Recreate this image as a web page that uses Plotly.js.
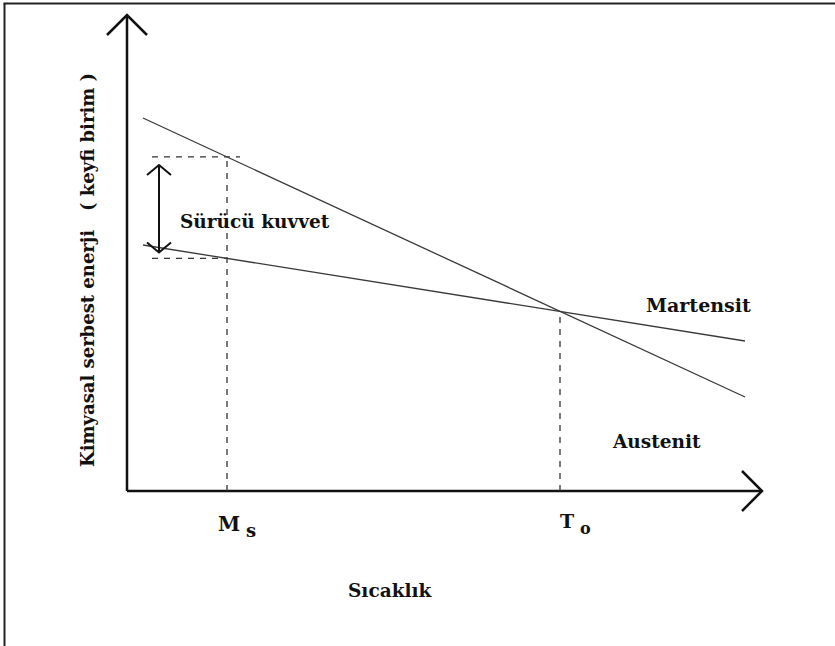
<!DOCTYPE html>
<html>
<head>
<meta charset="utf-8">
<script src="https://cdn.plot.ly/plotly-3.0.1.min.js"></script>
<style>html,body{margin:0;padding:0;background:#fff;}#chart{width:835px;height:646px;}</style>
</head>
<body>
<div id="chart"></div>
<script>
const temperature = [1.6, 61.8];          // Sıcaklık, start/end of the free-energy lines
const austeniteEnergy = [37.3, 9.4];      // Austenit line
const martensiteEnergy = [24.6, 15.0];    // Martensit line
const msTemp = 10;                        // M_s
const t0Temp = 43.3;                      // T_o
const axisEnd = {x: 63.5, y: 47.6};       // ends of the arrowed axes
const drivingForceX = 3.2;                // position of the double arrow
const tickMain = ["M", "T"];
const tickSub = ["s", "o"];
const axisTitles = {x: "Sıcaklık", y: "Kimyasal serbest enerji&nbsp;&nbsp;&nbsp;( keyfi birim )"};
const seriesLabels = ["Martensit", "Austenit", "Sürücü kuvvet"];

function interp(xs, ys, x) {
  return ys[0] + (ys[1] - ys[0]) * (x - xs[0]) / (xs[1] - xs[0]);
}
const aMs = interp(temperature, austeniteEnergy, msTemp);
const mMs = interp(temperature, martensiteEnergy, msTemp);
const aT0 = interp(temperature, austeniteEnergy, t0Temp);

const font = "DejaVu Serif";
const traces = [];
function line(x, y, color, width, dash) {
  traces.push({type: "scatter", mode: "lines", x: x, y: y, hoverinfo: "skip", showlegend: false,
    line: {color: color, width: width, dash: dash || "solid"}});
}
// axes with open arrowheads
line([0, 0], [0, axisEnd.y], "#111", 2.5);
line([-2, 0, 2], [axisEnd.y - 2, axisEnd.y, axisEnd.y - 2], "#111", 2.5);
line([0, axisEnd.x], [0, 0], "#111", 2.5);
line([axisEnd.x - 2, axisEnd.x, axisEnd.x - 2], [2, 0, -2], "#111", 2.5);
// dashed guides
line([msTemp, msTemp], [0, aMs], "#333", 1.3, "6px,6px");
line([2.5, msTemp + 1.3], [aMs, aMs], "#333", 1.3, "6px,6px");
line([2.5, msTemp], [mMs, mMs], "#333", 1.3, "6px,6px");
line([t0Temp, t0Temp], [0, aT0], "#333", 1.3, "6px,6px");
// free energy lines
line(temperature, austeniteEnergy, "#3a3a3a", 1.3);
line(temperature, martensiteEnergy, "#3a3a3a", 1.3);
// double arrow (driving force)
const arrTop = aMs - 0.8, arrBot = mMs + 0.6;
line([drivingForceX, drivingForceX], [arrBot, arrTop], "#111", 2);
line([drivingForceX - 1.2, drivingForceX, drivingForceX + 1.2], [arrTop - 1, arrTop, arrTop - 1], "#111", 2);
line([drivingForceX - 1.2, drivingForceX, drivingForceX + 1.2], [arrBot + 1, arrBot, arrBot + 1], "#111", 2);

function ann(text, x, y, size, extra) {
  return Object.assign({text: text, x: x, y: y, xref: "x", yref: "y", showarrow: false,
    xanchor: "center", yanchor: "middle", font: {family: font, size: size, color: "#111", weight: "bold"}}, extra || {});
}
const annotations = [
  ann(seriesLabels[2], 12.8, 27.0, 18.5),
  ann(seriesLabels[0], 57.1, 18.6, 19),
  ann(seriesLabels[1], 52.9, 5.0, 18.5),
  ann(tickMain[0], 11.5, -3.3, 20, {xanchor: "right"}),
  ann(tickSub[0], 11.7, -3.9, 18, {xanchor: "left"}),
  ann(tickMain[1], 44.9, -3.0, 19, {xanchor: "right"}),
  ann(tickSub[1], 45.1, -3.7, 16, {xanchor: "left"}),
  ann(axisTitles.x, 26.3, -9.9, 18.5),
  ann(axisTitles.y, -4.0, 22.1, 18, {textangle: -90})
];

const layout = {
  width: 835, height: 646,
  margin: {l: 0, r: 0, t: 0, b: 0},
  paper_bgcolor: "#fff", plot_bgcolor: "#fff",
  font: {family: font},
  xaxis: {range: [-12.7, 70.8], visible: false, fixedrange: true},
  yaxis: {range: [-15.5, 49.1], visible: false, fixedrange: true},
  showlegend: false,
  annotations: annotations,
  shapes: [
    {type: "line", xref: "paper", yref: "paper", x0: 3.5 / 835, x1: 1, y0: 1 - 3.5 / 646, y1: 1 - 3.5 / 646, line: {color: "#222", width: 2}},
    {type: "line", xref: "paper", yref: "paper", x0: 4.5 / 835, x1: 4.5 / 835, y0: 0, y1: 1 - 3.5 / 646, line: {color: "#222", width: 2}}
  ]
};
Plotly.newPlot("chart", traces, layout, {staticPlot: true, displayModeBar: false});
</script>
</body>
</html>
